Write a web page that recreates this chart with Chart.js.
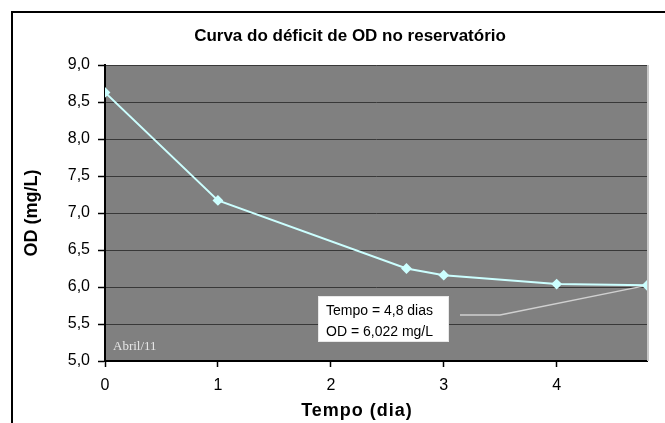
<!DOCTYPE html>
<html>
<head>
<meta charset="utf-8">
<script src="https://cdn.jsdelivr.net/npm/chart.js@4"></script>
<style>
  html, body { margin: 0; padding: 0; background: #fff; }
  #wrap { width: 665px; height: 423px; }
</style>
</head>
<body>
<div id="wrap"><canvas id="odChart" width="665" height="423"></canvas></div>
<script>
// ---------- DATA ----------
const tempoDias = [0, 1, 2.67, 3, 4, 4.8];
const odValues = [8.63, 7.17, 6.25, 6.16, 6.04, 6.022];
const chartTitle = "Curva do déficit de OD no reservatório";
const xTitle = "Tempo (dia)";
const yTitle = "OD (mg/L)";
const noteLines = ["Tempo = 4,8 dias", "OD = 6,022 mg/L"];
const periodLabel = "Abril/11";

const FONT = "'Liberation Sans', Arial, sans-serif";
const fmt = v => v.toFixed(1).replace(".", ",");

// ---------- PLUGINS ----------
// white page + black frame + grey plot area + titles
const backdrop = {
    id: "backdrop",
    beforeDraw(chart) {
        const { ctx, chartArea: a } = chart;
        ctx.save();
        ctx.fillStyle = "#fff";
        ctx.fillRect(0, 0, chart.width, chart.height);
        ctx.strokeStyle = "#000";
        ctx.lineWidth = 2;
        ctx.strokeRect(12, 12, chart.width + 10, chart.height + 10);
        ctx.fillStyle = "#808080";
        ctx.fillRect(a.left, a.top, a.right - a.left, a.bottom - a.top);

        ctx.fillStyle = "#000";
        ctx.font = "bold 17px " + FONT;
        ctx.textAlign = "center";
        ctx.textBaseline = "middle";
        ctx.fillText(chartTitle, 350, 36);

        // x axis title sits a bit left of the plot centre, letter-spaced
        ctx.font = "bold 18px " + FONT;
        ctx.letterSpacing = "1px";
        ctx.fillText(xTitle, 357, 411);
        ctx.restore();
    },
    afterDraw(chart) {
        const { ctx, chartArea: a } = chart;
        ctx.save();
        ctx.strokeStyle = "#c8c8c8";
        ctx.lineWidth = 2;
        ctx.beginPath();
        ctx.moveTo(a.right + 1, a.top);
        ctx.lineTo(a.right + 1, a.bottom);
        ctx.stroke();
        ctx.restore();
    }
};

// callout box with leader line, and month label
const callout = {
    id: "callout",
    beforeDatasetsDraw(chart) {
        const { ctx, chartArea: a, scales } = chart;
        const last = odValues.length - 1;
        const px = scales.x.getPixelForValue(tempoDias[last]);
        const py = scales.y.getPixelForValue(odValues[last]);
        ctx.save();
        ctx.strokeStyle = "#d0d0d0";
        ctx.lineWidth = 1.5;
        ctx.beginPath();
        ctx.moveTo(460, 315);
        ctx.lineTo(500, 315);
        ctx.lineTo(px, py);
        ctx.stroke();

        ctx.fillStyle = "#fff";
        ctx.fillRect(318, 296, 130, 45);
        ctx.strokeStyle = "#e8e8e8";
        ctx.lineWidth = 1;
        ctx.strokeRect(318.5, 296.5, 130, 45);
        ctx.fillStyle = "#000";
        ctx.font = "14px " + FONT;
        ctx.textBaseline = "middle";
        ctx.fillText(noteLines[0], 326, 311);
        ctx.fillText(noteLines[1], 326, 332);

        ctx.fillStyle = "#e6e6e6";
        ctx.font = "13px 'Liberation Serif', 'Times New Roman', serif";
        ctx.textBaseline = "alphabetic";
        ctx.fillText(periodLabel, a.left + 8, a.bottom - 11);
        ctx.restore();
    }
};

// ---------- CHART ----------
const ctx = document.getElementById("odChart").getContext("2d");
new Chart(ctx, {
    type: "scatter",
    data: {
        datasets: [{
            data: tempoDias.map((t, i) => ({ x: t, y: odValues[i] })),
            showLine: true,
            borderColor: "#ccffff",
            backgroundColor: "#ccffff",
            borderWidth: 2,
            pointStyle: "rectRot",
            pointRadius: 4,
            pointHoverRadius: 4,
            tension: 0
        }]
    },
    options: {
        responsive: false,
        animation: false,
        layout: { padding: { left: 14, right: 18, top: 65, bottom: 0 } },
        plugins: {
            legend: { display: false },
            tooltip: { enabled: false },
            title: { display: false }
        },
        scales: {
            x: {
                type: "linear",
                min: 0,
                max: 4.8,
                afterFit: s => { s.height = 62; },
                ticks: {
                    stepSize: 1,
                    includeBounds: false,
                    color: "#000",
                    padding: 9,
                    font: { family: FONT, size: 16 }
                },
                grid: { drawOnChartArea: false, drawTicks: true, tickLength: 6, tickColor: "#000", tickWidth: 1.5 },
                border: { color: "#000", width: 2 },
                title: { display: false }
            },
            y: {
                min: 5,
                max: 9,
                afterFit: s => { s.width = 91; },
                ticks: {
                    stepSize: 0.5,
                    color: "#000",
                    padding: 8,
                    callback: v => fmt(v),
                    font: { family: FONT, size: 16 }
                },
                grid: {
                    color: "#383838",
                    borderDash: [3, 1],
                    lineWidth: 1,
                    tickLength: 7,
                    tickColor: "#000",
                    tickBorderDash: [],
                    tickWidth: 1.5
                },
                border: { color: "#000", width: 2 },
                title: {
                    display: true,
                    text: yTitle,
                    color: "#000",
                    font: { family: FONT, size: 18, weight: "bold" },
                    padding: { top: 7, bottom: 0 }
                }
            }
        }
    },
    plugins: [backdrop, callout]
});
</script>
</body>
</html>
